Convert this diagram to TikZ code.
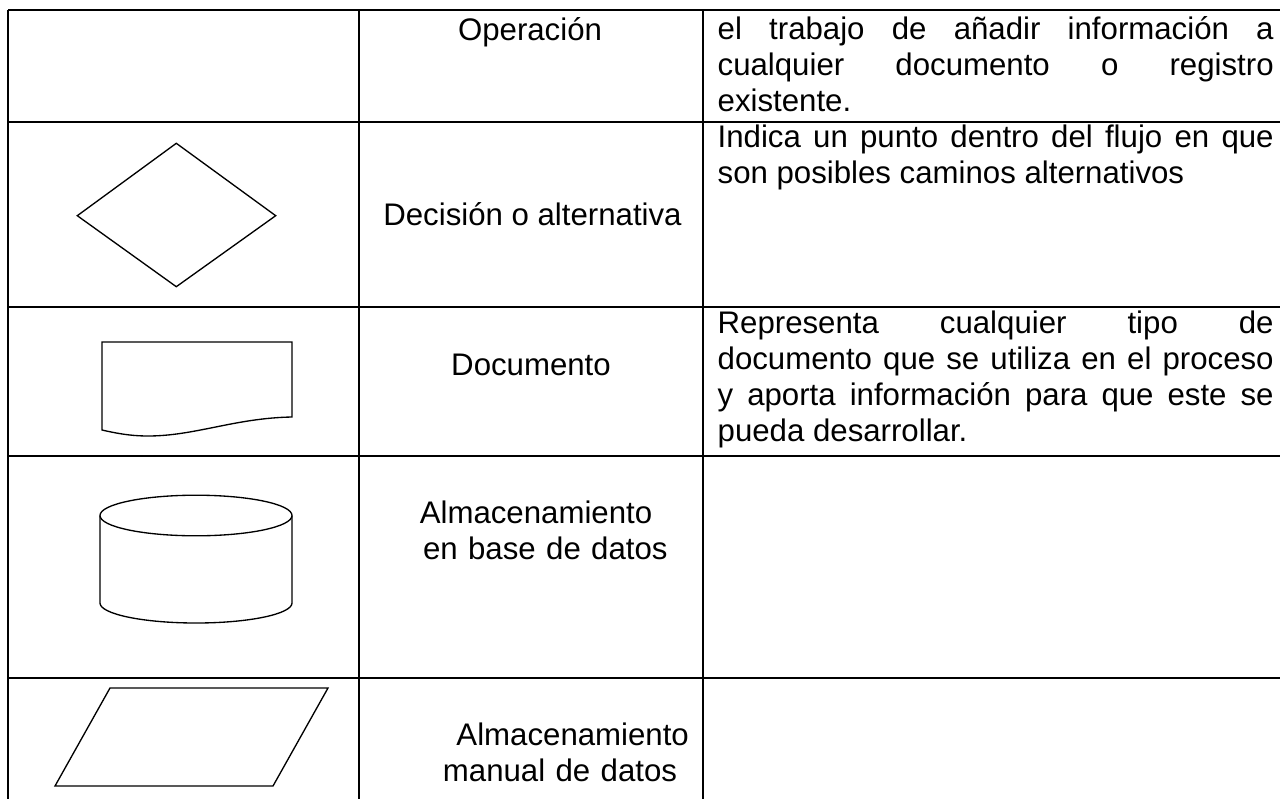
\documentclass[tikz,border=0pt]{standalone}
\usepackage{fontspec}
\setmainfont{Liberation Sans}
\tikzset{every picture/.style={line width=1pt}}
\tikzset{
  tabla/.style={line width=1.5pt},
  celda/.style={inner sep=0pt, font=\fontsize{23.4}{27}\selectfont},
  texto/.style={celda, anchor=base west, text width=417pt, align=justify}
}
\hbadness=10000
\tolerance=9999

\begin{document}
\begin{tikzpicture}[x=0.75pt,y=0.75pt,yscale=-1,xscale=1]
\useasboundingbox (0,0) rectangle (1280,799);

%Straight Lines [table rows]
\draw [tabla]   (8,10) -- (1280,10) ;
\draw [tabla]   (8,122) -- (1280,122) ;
\draw [tabla]   (8,307) -- (1280,307) ;
\draw [tabla]   (8,456) -- (1280,456) ;
\draw [tabla]   (8,678) -- (1280,678) ;
%Straight Lines [table columns]
\draw [tabla]   (8,10) -- (8,799) ;
\draw [tabla]   (359,10) -- (359,799) ;
\draw [tabla]   (703,10) -- (703,799) ;

%Shape: Diamond
\draw   (176.3,143.3) -- (275.7,215.7) -- (176.3,286.7) -- (77.3,215.7) -- cycle ;
%Shape: Document
\draw   (102,342) -- (292,342) -- (292,417) .. controls (235,418) and (195,436) .. (148,436) .. controls (130,436) and (115,433) .. (102,430) -- cycle ;
%Shape: Can
\draw   (100,515.5) -- (100,603) .. controls (100,614) and (143,623) .. (196,623) .. controls (249,623) and (292,614) .. (292,603) -- (292,515.5) ;
\draw   (100,515.5) .. controls (100,504.3) and (143,495.2) .. (196,495.2) .. controls (249,495.2) and (292,504.3) .. (292,515.5) .. controls (292,526.7) and (249,535.8) .. (196,535.8) .. controls (143,535.8) and (100,526.7) .. (100,515.5) -- cycle ;
%Shape: Parallelogram
\draw   (110,688) -- (328,688) -- (273,786) -- (55,786) -- cycle ;

% Text Node
\draw (530,40.7) node (operacion) [celda, anchor=base] {Operación};
% Text Node
\draw (532.5,225) node (decision) [celda, anchor=base] {Decisión o alternativa};
% Text Node
\draw (531,375) node (documento) [celda, anchor=base] {Documento};
% Text Node
\draw (536,523) node (basedatos) [celda, anchor=base, text width=300pt, align=center] {Almacenamiento\\\hspace*{14pt}en base de datos};
% Text Node
\draw (560,745) node (manual) [celda, anchor=base, text width=300pt, align=center] {\hspace*{19pt}Almacenamiento\\manual de datos};

% Text Node
\draw (717,40) node (descoperacion) [texto] {el trabajo de añadir información a\linebreak cualquier documento o registro\linebreak existente.};
% Text Node
\draw (717,147) node (descdecision) [texto] {Indica un punto dentro del flujo en que\linebreak son posibles caminos alternativos};
% Text Node
\draw (717,333) node (descdocumento) [texto] {Representa cualquier tipo de\linebreak documento que se utiliza en el proceso\linebreak y aporta información para que este se\linebreak pueda desarrollar.};

\end{tikzpicture}
\end{document}
